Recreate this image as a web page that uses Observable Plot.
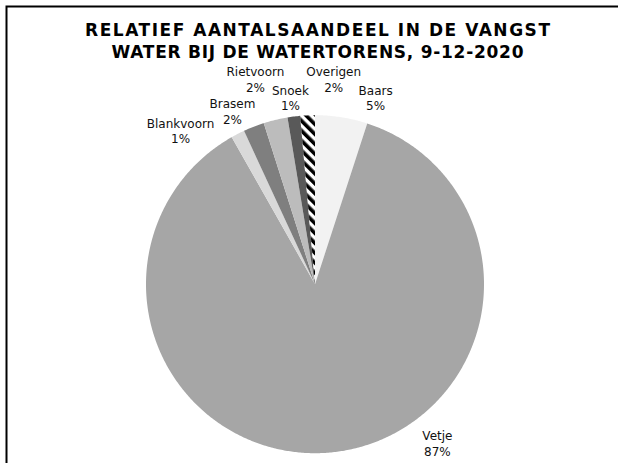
<!DOCTYPE html>
<html>
<head>
<meta charset="utf-8">
<script src="https://cdn.jsdelivr.net/npm/d3@7"></script>
<script src="https://cdn.jsdelivr.net/npm/@observablehq/plot@0.6"></script>
<style>
  html, body { margin: 0; padding: 0; background: #fff; }
  #chart svg { display: block; }
</style>
</head>
<body>
<div id="chart"></div>
<script>
// ---- data ----
const categories = ["Baars", "Vetje", "Blankvoorn", "Brasem", "Rietvoorn", "Snoek", "Overigen"];
const shares = [5.0, 86.8, 1.3, 2.0, 2.3, 1.2, 1.4];
const percentLabels = ["5%", "87%", "1%", "2%", "2%", "1%", "2%"];
const fills = ["#f2f2f2", "#a6a6a6", "#d9d9d9", "#7f7f7f", "#bcbcbc", "#595959", "url(#hatch)"];
// label placement (polar, degrees clockwise from 12 o'clock; radius relative to pie radius)
const labelAngle = [18.0, 142.4, -41.2, -25.5, -16.2, -7.5, 5.2];
const labelRadius = [1.161, 1.187, 1.208, 1.135, 1.264, 1.114, 1.219];
const titleLines = ["RELATIEF AANTALSAANDEEL IN DE VANGST", "WATER BIJ DE WATERTORENS, 9-12-2020"];

// ---- layout ----
const W = 618, H = 463;
const cx = 314.5, cy = 283.7, R = 169;
const titleWidths = [465, 412];

// ---- build slices ----
const pie = d3.pie().sort(null).value(d => d)(shares);
const slicePts = [];
pie.forEach((p, i) => {
  const a0 = p.startAngle, a1 = p.endAngle;
  const n = Math.max(4, Math.ceil((a1 - a0) / (Math.PI / 360)));
  slicePts.push({cat: categories[i], fill: fills[i], x: 0, y: 0});
  for (let k = 0; k <= n; k++) {
    const a = a0 + (a1 - a0) * k / n;
    slicePts.push({cat: categories[i], fill: fills[i], x: Math.sin(a), y: Math.cos(a)});
  }
  slicePts.push({cat: categories[i], fill: fills[i], x: 0, y: 0});
});

const labels = categories.map((c, i) => {
  const a = labelAngle[i] * Math.PI / 180;
  return {
    text: c + "\n" + percentLabels[i],
    x: labelRadius[i] * Math.sin(a),
    y: labelRadius[i] * Math.cos(a)
  };
});

const svg = Plot.plot({
  width: W,
  height: H,
  margin: 0,
  style: {fontFamily: "'DejaVu Sans', Verdana, sans-serif", background: "#fff", overflow: "hidden"},
  x: {domain: [-1, 1], range: [cx - R, cx + R], axis: null},
  y: {domain: [-1, 1], range: [cy + R, cy - R], axis: null},
  color: {type: "identity"},
  marks: [
    Plot.frame({stroke: "#000", strokeWidth: 2, insetLeft: 6, insetTop: 6, insetRight: -20, insetBottom: -20}),
    Plot.line(slicePts, {x: "x", y: "y", z: "cat", fill: "fill", stroke: "none", curve: "linear"}),
    Plot.text(labels, {x: "x", y: "y", text: "text", lineAnchor: "middle", lineHeight: 1.3, fontSize: 12, fill: "#111"}),
    Plot.text([titleLines[0]], {frameAnchor: "top", dx: 8, dy: 35, lineAnchor: "bottom", fontSize: 17, fontWeight: "bold", fill: "#000"}),
    Plot.text([titleLines[1]], {frameAnchor: "top", dx: 8, dy: 57, lineAnchor: "bottom", fontSize: 17, fontWeight: "bold", fill: "#000"})
  ]
});

// stretch title lines to the reference widths
d3.select(svg).selectAll("text").each(function () {
  const t = this.textContent;
  const idx = titleLines.indexOf(t);
  if (idx >= 0) {
    this.setAttribute("textLength", titleWidths[idx]);
    this.setAttribute("lengthAdjust", "spacing");
  }
});

// hatch pattern for "Overigen"
const defs = d3.select(svg).insert("defs", ":first-child");
const pat = defs.append("pattern")
  .attr("id", "hatch")
  .attr("patternUnits", "userSpaceOnUse")
  .attr("width", 7).attr("height", 7)
  .attr("patternTransform", "rotate(-45)");
pat.append("rect").attr("width", 7).attr("height", 7).attr("fill", "#fff");
pat.append("rect").attr("width", 3.6).attr("height", 7).attr("fill", "#000");

document.getElementById("chart").appendChild(svg);
</script>
</body>
</html>
